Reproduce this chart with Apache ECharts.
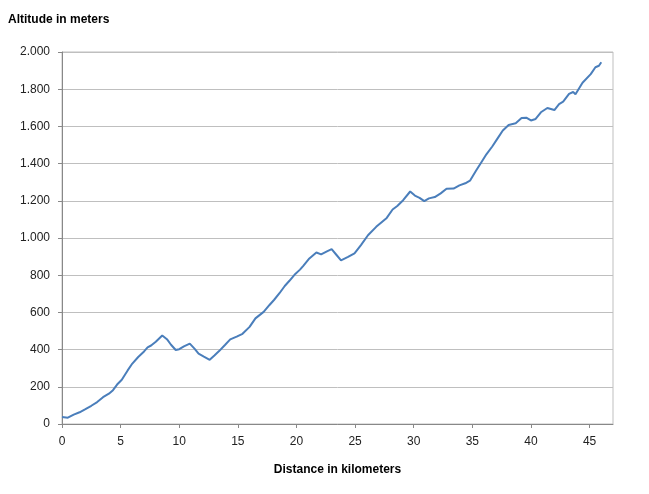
<!DOCTYPE html>
<html>
<head>
<meta charset="utf-8">
<script src="https://cdn.jsdelivr.net/npm/echarts@6/dist/echarts.min.js"></script>
<style>
html,body{margin:0;padding:0;background:#fff;}
#chart{width:649px;height:494px;}
</style>
</head>
<body>
<div id="chart"></div>
<script>
const distanceKm = [0,0.5,1.0,1.5,2.0,2.5,3.0,3.5,4.0,4.35,4.7,5.1,5.6,6.0,6.5,7.0,7.3,7.6,8.0,8.55,8.95,9.3,9.7,10.0,10.4,10.9,11.3,11.65,12.1,12.6,13.0,13.4,13.9,14.35,14.9,15.4,16.0,16.5,17.2,17.7,18.1,18.55,19.0,19.4,19.9,20.3,20.6,21.1,21.7,22.1,22.6,23.0,23.4,23.8,24.4,24.95,25.5,26.1,26.8,27.7,28.2,28.6,29.1,29.7,30.1,30.5,30.9,31.3,31.8,32.3,32.8,33.4,33.9,34.4,34.8,35.3,35.8,36.2,36.7,37.1,37.6,38.1,38.7,39.2,39.6,40.0,40.4,40.85,41.4,42.0,42.4,42.75,43.25,43.6,43.8,44.4,45.1,45.5,45.8,46.0];
const altitudeM = [38,34,50,63,80,98,118,144,163,182,212,238,288,325,360,390,412,422,442,476,456,426,398,402,417,432,405,378,362,345,368,392,425,455,470,485,522,568,603,640,668,703,742,770,807,830,852,890,922,912,928,940,910,880,898,917,962,1015,1060,1108,1153,1172,1203,1250,1228,1216,1198,1213,1220,1240,1265,1266,1283,1294,1308,1360,1410,1450,1492,1530,1578,1608,1617,1645,1647,1632,1640,1676,1699,1688,1720,1733,1775,1785,1773,1835,1881,1918,1926,1945];
const yTitle = 'Altitude in meters';
const xTitle = 'Distance in kilometers';

function fmtThousands(v) {
  if (v >= 1000) return Math.floor(v / 1000) + '.' + String(v % 1000).padStart(3, '0');
  return String(v);
}

const chart = echarts.init(document.getElementById('chart'), null, {renderer: 'canvas'});
chart.setOption({
  animation: false,
  backgroundColor: '#ffffff',
  grid: {left: 62, right: 36, top: 52, bottom: 70, show: true, borderColor: '#bfbfbf', borderWidth: 1, backgroundColor: 'transparent'},
  graphic: [{
    type: 'text', left: 8, top: 14,
    style: {text: yTitle, font: 'bold 12px "Liberation Sans", Arial, sans-serif', fill: '#000'}
  }],
  xAxis: {
    type: 'value', min: 0, max: 47, interval: 5,
    name: xTitle, nameLocation: 'middle', nameGap: 40,
    nameTextStyle: {fontFamily: '"Liberation Sans", Arial, sans-serif', fontWeight: 'bold', fontSize: 12, color: '#000'},
    axisLine: {show: true, onZero: false, lineStyle: {color: '#888888', width: 1}},
    axisTick: {show: true, length: 4, lineStyle: {color: '#888888'}},
    axisLabel: {showMaxLabel: false, margin: 12, fontSize: 12, color: '#222', fontFamily: '"Liberation Sans", Arial, sans-serif'},
    splitLine: {show: false}
  },
  yAxis: {
    type: 'value', min: 0, max: 2000, interval: 200,
    axisLine: {show: true, lineStyle: {color: '#888888', width: 1}},
    axisTick: {show: true, length: 4, lineStyle: {color: '#888888'}},
    axisLabel: {margin: 12, fontSize: 12, color: '#222', fontFamily: '"Liberation Sans", Arial, sans-serif', formatter: fmtThousands},
    splitLine: {show: true, lineStyle: {color: '#bfbfbf', width: 1}}
  },
  series: [{
    type: 'line',
    data: distanceKm.map((d, i) => [d, altitudeM[i]]),
    showSymbol: false,
    smooth: false,
    lineStyle: {color: '#4A7EBB', width: 2},
    itemStyle: {color: '#4A7EBB'}
  }]
});
</script>
</body>
</html>
